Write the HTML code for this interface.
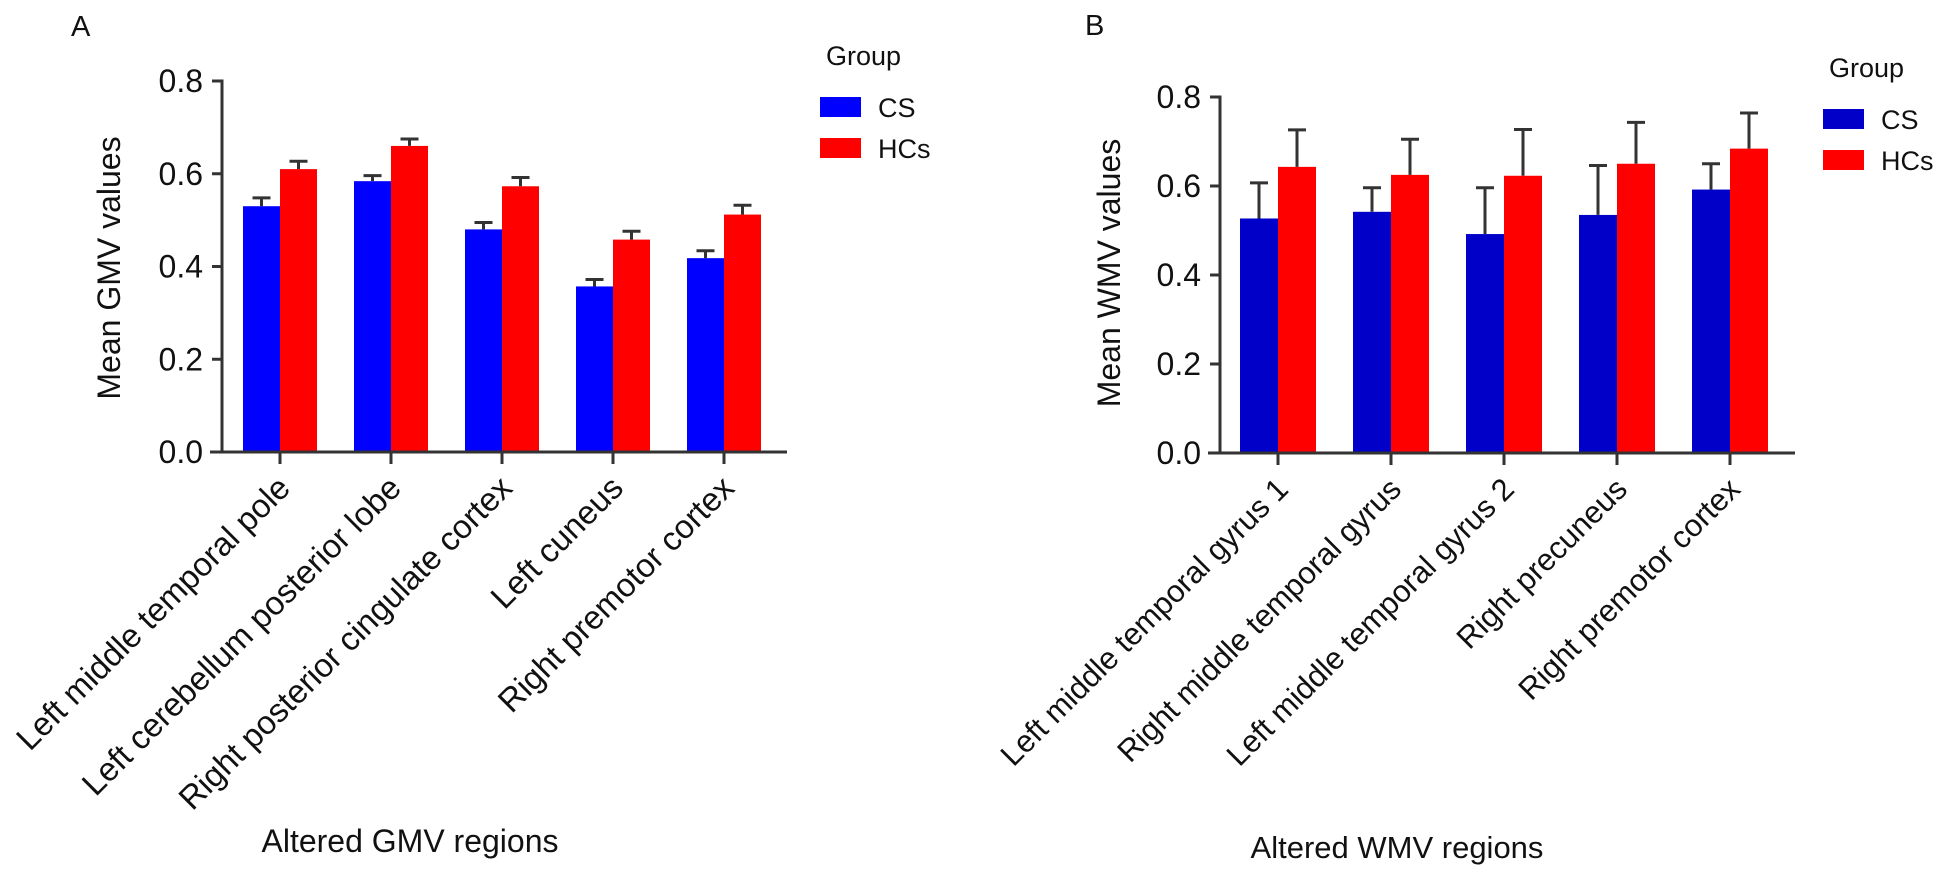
<!DOCTYPE html>
<html><head><meta charset="utf-8"><style>
html,body{margin:0;padding:0;background:#fff;}
svg{display:block;font-family:"Liberation Sans",Arial,sans-serif;}
</style></head><body>
<svg id="fig" width="1957" height="871" viewBox="0 0 1957 871"></svg>
<script>
const catsA = ["Left middle temporal pole","Left cerebellum posterior lobe","Right posterior cingulate cortex","Left cuneus","Right premotor cortex"];
const csA = [0.53,0.584,0.48,0.357,0.418];
const csErrA = [0.018,0.012,0.015,0.015,0.016];
const hcA = [0.61,0.66,0.573,0.458,0.512];
const hcErrA = [0.017,0.015,0.019,0.018,0.02];
const catsB = ["Left middle temporal gyrus 1","Right middle temporal gyrus","Left middle temporal gyrus 2","Right precuneus","Right premotor cortex"];
const csB = [0.527,0.542,0.492,0.535,0.592];
const csErrB = [0.08,0.054,0.104,0.111,0.058];
const hcB = [0.643,0.625,0.623,0.65,0.684];
const hcErrB = [0.083,0.08,0.104,0.093,0.08];
const yTicks = ["0.0","0.2","0.4","0.6","0.8"];

const NS="http://www.w3.org/2000/svg";
const svg=document.getElementById('fig');
function mk(tag,attrs,parent,text){const e=document.createElementNS(NS,tag);for(const k in attrs)e.setAttribute(k,attrs[k]);if(text!==undefined)e.textContent=text;(parent||svg).appendChild(e);return e;}

function panel(o){
  const g=mk('g',{});
  
  
  const y=v=>o.y0-(v/0.8)*(o.y0-o.y8);
  const bx=i=>o.x0+i*o.step;
  o.cats.forEach((c,i)=>{
    const sets=[[o.cs,o.csErr,o.csColor,0,'cs'],[o.hc,o.hcErr,'#ff0000',o.bw,'hcs']];
    sets.forEach(s=>{
      const x=bx(i)+s[3], v=s[0][i], e=s[1][i];
      const r=mk('rect',{x:x,y:y(v),width:o.bw,height:o.y0-y(v),fill:s[2]},g);
      
      
      const cx=x+o.bw/2;
      const eb=mk('path',{d:`M${cx},${y(v)}V${y(v+e)}M${cx-9},${y(v+e)}H${cx+9}`,stroke:'#333',"stroke-width":3,fill:'none'},g);
      
      
    });
    const tc=bx(i)+o.bw;
    mk('line',{x1:tc,y1:o.y0,x2:tc,y2:o.y0+12,stroke:'#333','stroke-width':3},g);
    const t=mk('text',{x:0,y:0,'font-size':o.catFs,'text-anchor':'end',fill:'#111',transform:`translate(${tc+12},${o.y0+38}) rotate(-45)`},g,c);
    
    
  });
  const ya=mk('path',{d:`M${o.ax-10},${o.y8}H${o.ax}V${o.y0}`,stroke:'#333','stroke-width':3,fill:'none'},g);
  
  
  const xa=mk('line',{x1:o.ax-12,y1:o.y0,x2:o.axEnd,y2:o.y0,stroke:'#333','stroke-width':3},g);
  
  
  yTicks.forEach((t,i)=>{
    const v=parseFloat(t);
    mk('line',{x1:o.ax-10,y1:y(v),x2:o.ax,y2:y(v),stroke:'#333','stroke-width':3},g);
    const tl=mk('text',{x:o.ax-19,y:y(v)+11,'font-size':o.tickFs,'text-anchor':'end',fill:'#111'},g,t);
    
    
  });
  const yt=mk('text',{x:0,y:0,'font-size':o.titleFs,'text-anchor':'middle',fill:'#111',transform:`translate(${o.ytx},${o.yty}) rotate(-90)`},g,o.ytitle);
  
  
  const xt=mk('text',{x:o.xtx,y:o.xty,'font-size':o.xtFs,'text-anchor':'middle',fill:'#111'},g,o.xtitle);
  
  
  const pl=mk('text',{x:o.plx,y:o.ply,'font-size':29,fill:'#111'},g,o.letter);
  
  
  const lg=mk('g',{},g);
  
  
  mk('text',{x:o.lx+6,y:o.ly,'font-size':27,fill:'#111'},lg,'Group');
  [[o.csColor,'CS'],['#ff0000','HCs']].forEach((s,k)=>{
    const yy=o.ly+42+k*41;
    const sw=mk('rect',{x:o.lx,y:yy-10,width:41,height:20,fill:s[0]},lg);
    
    
    mk('text',{x:o.lx+58,y:yy+10,'font-size':27,fill:'#111'},lg,s[1]);
  });
}
panel({id:'gmv',letter:'A',cats:catsA,cs:csA,csErr:csErrA,hc:hcA,hcErr:hcErrA,csColor:'#0000ff',
  x0:243,step:111,bw:37,y0:452,y8:81,ax:222,axEnd:787,tickFs:32,catFs:33,titleFs:32,xtFs:32,
  ytitle:'Mean GMV values',ytx:120,yty:268,xtitle:'Altered GMV regions',xtx:410,xty:852,plx:71,ply:36,lx:820,ly:65});
panel({id:'wmv',letter:'B',cats:catsB,cs:csB,csErr:csErrB,hc:hcB,hcErr:hcErrB,csColor:'#0000c8',
  x0:1240,step:113,bw:38,y0:453,y8:97,ax:1220,axEnd:1795,tickFs:32,catFs:31,titleFs:32,xtFs:31,
  ytitle:'Mean WMV values',ytx:1120,yty:273,xtitle:'Altered WMV regions',xtx:1397,xty:858,plx:1085,ply:35,lx:1823,ly:77});
</script>
</body></html>
